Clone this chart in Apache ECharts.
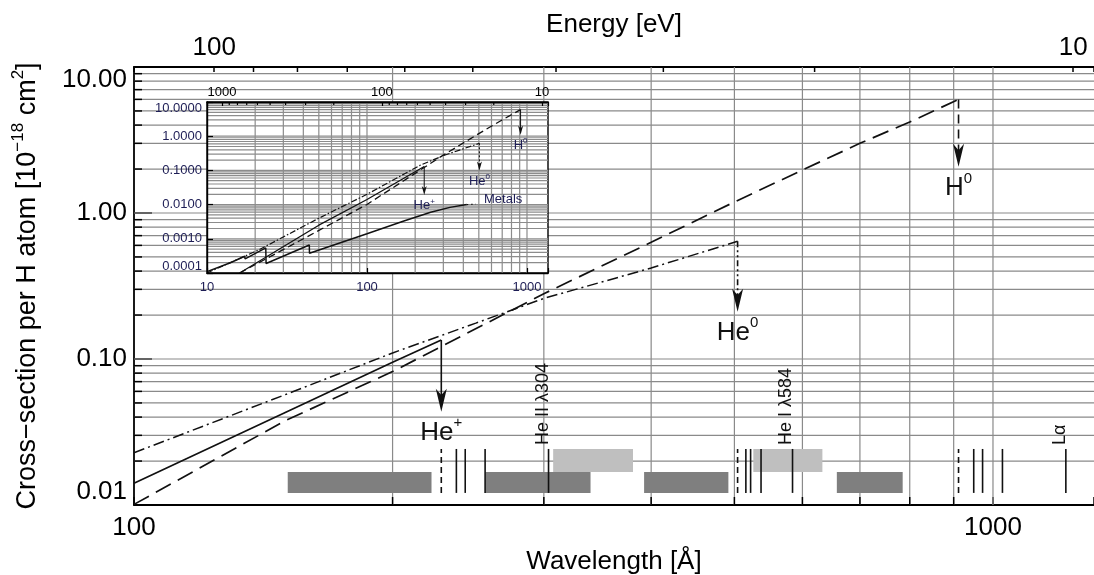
<!DOCTYPE html>
<html><head><meta charset="utf-8">
<script src="https://cdn.jsdelivr.net/npm/echarts@6/dist/echarts.min.js"></script>
<style>html,body{margin:0;padding:0;background:#fff}#c{width:1094px;height:575px}</style>
</head><body><div id="c"></div>
<script>
// ---------------- data (main panel) ----------------
const h0Wave = [100, 150, 200, 300, 400, 500, 600, 700, 800, 911.8];
const h0Sigma = [0.0101, 0.0378, 0.082, 0.28, 0.63, 1.19, 1.97, 3.0, 4.2, 6.0];
const he0Wave = [100, 150, 200, 250, 300, 400, 504.3];
const he0Sigma = [0.0228, 0.057, 0.11, 0.176, 0.26, 0.42, 0.64];
const heiiWave = [100, 150, 200, 227.9];
const heiiSigma = [0.0141, 0.043, 0.095, 0.135];

const arrowWave = [911.8, 504.3, 227.9];
const arrowFrom = [6.0, 0.64, 0.135];
const arrowTo = [2.07, 0.211, 0.0436];
const arrowIon = ['H', 'He', 'He'];
const arrowCharge = ['0', '0', '+'];

const darkBands = [[151, 222], [256.5, 340], [392.5, 492], [658, 785]];
const lightBands = [[307.6, 381], [526, 633]];
const lineWaves = [237.3, 243.0, 256.3, 303.8, 515.6, 522.2, 537.0, 584.3, 949.7, 972.5, 1025.7, 1215.7];
const edgeWaves = [227.9, 504.3, 911.8];
const labelWaves = [303.8, 584.3, 1215.7];
const labelTexts = ['He II λ304', 'He I λ584', 'Lα'];

// ---------------- tick / grid values (main) ----------------
const mainWaveGrid = [200, 300, 400, 500, 600, 700, 800, 900, 1000];
const mainWaveMinorTicks = [200, 300, 400, 500, 600, 700, 800, 900];
const mainSigmaGrid = [0.02, 0.03, 0.04, 0.05, 0.06, 0.07, 0.08, 0.09, 0.1,
  0.2, 0.3, 0.4, 0.5, 0.6, 0.7, 0.8, 0.9, 1, 2, 3, 4, 5, 6, 7, 8, 9];
const mainSigmaMinorTicks = [0.02, 0.03, 0.04, 0.05, 0.06, 0.07, 0.08, 0.09,
  0.2, 0.3, 0.4, 0.5, 0.6, 0.7, 0.8, 0.9, 2, 3, 4, 5, 6, 7, 8, 9];
const mainEnergyMinorTicks = [20, 30, 40, 50, 60, 70, 80, 90];

// ---------------- data (inset) ----------------
const insetH0Wave = [16, 40, 100, 200, 300, 500, 700, 911.8];
const insetH0Sigma = [0.0001, 0.001, 0.0101, 0.082, 0.28, 1.19, 3.0, 6.0];
const insetHe0Wave = [10, 21, 50, 100, 214, 300, 504.3];
const insetHe0Sigma = [0.0001, 0.00047, 0.004, 0.02, 0.14, 0.27, 0.62];
const insetHeIIWave = [16, 50, 100, 227.9];
const insetHeIISigma = [0.0001, 0.0025, 0.0141, 0.13];
const metalsWave = [10, 14, 17.2, 17.3, 23.3, 23.4, 43.6, 43.7, 100, 170, 250, 330, 420];
const metalsSigma = [0.00011, 0.0002, 0.00031, 0.00026, 0.00054, 0.00019, 0.00066, 0.00038, 0.0014, 0.0033, 0.006, 0.0083, 0.0100];
const metalsTailWave = [420, 480];
const metalsTailSigma = [0.0100, 0.0104];
const insetArrowFrom = [6.0, 0.62, 0.13];
const insetArrowTo = [1.1, 0.1, 0.0192];

const insetWaveGrid = [20, 30, 40, 50, 60, 70, 80, 90, 100, 200, 300, 400, 500, 600, 700, 800, 900, 1000];
const insetSigmaGrid = [0.0002, 0.0003, 0.0004, 0.0005, 0.0006, 0.0007, 0.0008, 0.0009, 0.001,
  0.002, 0.003, 0.004, 0.005, 0.006, 0.007, 0.008, 0.009, 0.01,
  0.02, 0.03, 0.04, 0.05, 0.06, 0.07, 0.08, 0.09, 0.1,
  0.2, 0.3, 0.4, 0.5, 0.6, 0.7, 0.8, 0.9, 1, 2, 3, 4, 5, 6, 7, 8, 9];
const insetEnergyMinorTicks = [20, 30, 40, 50, 60, 70, 80, 90, 200, 300, 400, 500, 600, 700, 800, 900];

// ---------------- axis limits ----------------
const HC = 12398.4; // eV * Angstrom
const WAVE_MIN = 100, WAVE_MAX = 1311, SIG_MIN = 0.01, SIG_MAX = 10;
const IN_WAVE_MIN = 10, IN_WAVE_MAX = 1353, IN_SIG_MIN = 0.0001, IN_SIG_MAX = 10;
const BAND_LOW = 0.0121, BAND_MID = 0.01683, BAND_TOP = 0.0242;
const FONT = 'Liberation Sans, Arial, Helvetica, sans-serif';
const NAVY = '#1d1d55';

function isDecade(v) { const l = Math.log10(v); return Math.abs(l - Math.round(l)) < 1e-6; }
function pairs(xs, ys) { return xs.map((x, i) => [x, ys[i]]); }

function gridLineSeries(xi, yi, z, values, vertical, lo, hi, color, width) {
  return {
    type: 'custom', xAxisIndex: xi, yAxisIndex: yi, z: z, silent: true,
    data: values.map(v => vertical ? [v, lo] : [lo, v]),
    renderItem(p, api) {
      let a, b;
      if (vertical) { a = api.coord([api.value(0), lo]); b = api.coord([api.value(0), hi]); }
      else { a = api.coord([lo, api.value(1)]); b = api.coord([hi, api.value(1)]); }
      return { type: 'line', shape: { x1: a[0], y1: a[1], x2: b[0], y2: b[1] }, style: { stroke: color, lineWidth: width } };
    }
  };
}

function tickSeries(xi, yi, z, data, dx, dy, width) {
  return {
    type: 'custom', xAxisIndex: xi, yAxisIndex: yi, z: z, silent: true,
    data: data,
    renderItem(p, api) {
      const a = api.coord([api.value(0), api.value(1)]);
      return { type: 'line', shape: { x1: a[0], y1: a[1], x2: a[0] + dx, y2: a[1] + dy }, style: { stroke: '#000', lineWidth: width } };
    }
  };
}

function arrowSeries(xi, yi, z, froms, tos, cfg) {
  return {
    type: 'custom', xAxisIndex: xi, yAxisIndex: yi, z: z, silent: true,
    data: arrowWave.map((w, i) => [w, froms[i], tos[i], i]),
    renderItem(p, api) {
      const i = api.value(3);
      const a = api.coord([api.value(0), api.value(1)]);
      const b = api.coord([api.value(0), api.value(2)]);
      const x = b[0], hl = cfg.headLen, hw = cfg.headW;
      return { type: 'group', children: [
        { type: 'line', shape: { x1: x, y1: a[1], x2: x, y2: b[1] - hl * 0.6 },
          style: { stroke: cfg.color, lineWidth: cfg.lw, lineDash: cfg.dash[i] } },
        { type: 'polygon', shape: { points: [[x, b[1]], [x - hw / 2, b[1] - hl], [x, b[1] - hl * 0.72], [x + hw / 2, b[1] - hl]] },
          style: { fill: cfg.color } },
        { type: 'text', x: x + cfg.labelDx, y: b[1] + cfg.labelGap,
          style: { text: '{a|' + arrowIon[i] + '}{b|' + arrowCharge[i] + '}', align: 'center', verticalAlign: 'middle',
            rich: { a: { fontSize: cfg.fs, fill: cfg.textColor, fontFamily: FONT, lineHeight: Math.round(cfg.fs * 1.3) },
                    b: { fontSize: cfg.sfs, fill: cfg.textColor, fontFamily: FONT, verticalAlign: 'top' } } } }
      ] };
    }
  };
}

const option = {
  animation: false,
  backgroundColor: '#fff',
  textStyle: { fontFamily: FONT },
  grid: [
    { left: 134, top: 67, right: 0, bottom: 70, containLabel: false, outerBoundsMode: 'none' },
    { left: 207, top: 102, width: 341, height: 171, containLabel: false, outerBoundsMode: 'none',
      show: true, backgroundColor: '#fff', borderColor: '#000', borderWidth: 1.4, z: 5 }
  ],
  xAxis: [
    { gridIndex: 0, type: 'log', min: WAVE_MIN, max: WAVE_MAX, position: 'bottom',
      axisLine: { lineStyle: { color: '#000', width: 1.8 } },
      axisTick: { show: true, inside: true, length: 8, lineStyle: { color: '#000', width: 1.5 } },
      axisLabel: { fontSize: 26, color: '#000', margin: 10, formatter: v => isDecade(v) ? String(Math.round(v)) : '' },
      splitLine: { show: false },
      name: 'Wavelength [Å]', nameLocation: 'middle', nameGap: 44, nameMoveOverlap: false,
      nameTextStyle: { fontSize: 26, color: '#000' } },
    { gridIndex: 0, type: 'log', inverse: true, min: HC / WAVE_MAX, max: HC / WAVE_MIN, position: 'top',
      axisLine: { lineStyle: { color: '#000', width: 1.8 } },
      axisTick: { show: true, inside: true, length: 5, lineStyle: { color: '#000', width: 1.5 } },
      axisLabel: { fontSize: 26, color: '#000', margin: 6, formatter: v => isDecade(v) ? String(Math.round(v)) : '' },
      splitLine: { show: false },
      name: 'Energy [eV]', nameLocation: 'middle', nameGap: 29, nameMoveOverlap: false,
      nameTextStyle: { fontSize: 26, color: '#000' } },
    { gridIndex: 1, type: 'log', min: IN_WAVE_MIN, max: IN_WAVE_MAX, position: 'bottom', z: 8,
      axisLine: { lineStyle: { color: '#000', width: 1.4 } },
      axisTick: { show: true, inside: true, length: 5, lineStyle: { color: '#000', width: 1.2 } },
      axisLabel: { fontSize: 13, color: NAVY, margin: 8, formatter: v => isDecade(v) ? String(Math.round(v)) : '' },
      splitLine: { show: false } },
    { gridIndex: 1, type: 'log', inverse: true, min: HC / IN_WAVE_MAX, max: HC / IN_WAVE_MIN, position: 'top', z: 8,
      axisLine: { lineStyle: { color: '#000', width: 1.4 } },
      axisTick: { show: true, inside: true, length: 4, lineStyle: { color: '#000', width: 1.2 } },
      axisLabel: { fontSize: 13, color: '#000', margin: 3, formatter: v => isDecade(v) ? String(Math.round(v)) : '' },
      splitLine: { show: false } }
  ],
  yAxis: [
    { gridIndex: 0, type: 'log', min: SIG_MIN, max: SIG_MAX,
      axisLine: { show: true, lineStyle: { color: '#000', width: 1.8 } },
      axisTick: { show: true, inside: true, length: 18, lineStyle: { color: '#000', width: 1.5 } },
      axisLabel: { fontSize: 26, color: '#000', margin: 7, formatter: v => isDecade(v) ? v.toFixed(2) : '',
        verticalAlignMinLabel: 'bottom', verticalAlignMaxLabel: 'top' },
      splitLine: { show: false },
      name: 'Cross−section per H atom [10{sup|−18} cm{sup|2}]', nameLocation: 'middle', nameGap: 88, nameMoveOverlap: false,
      nameTextStyle: { fontSize: 27, color: '#000', lineHeight: 36, rich: { sup: { fontSize: 17, color: '#000', verticalAlign: 'top' } } } },
    { gridIndex: 1, type: 'log', min: IN_SIG_MIN, max: IN_SIG_MAX, z: 8,
      axisLine: { show: true, lineStyle: { color: '#000', width: 1.4 } },
      axisTick: { show: true, inside: true, length: 6, lineStyle: { color: '#000', width: 1.2 } },
      axisLabel: { fontSize: 13, color: NAVY, margin: 5, formatter: v => isDecade(v) ? v.toFixed(4) : '',
        verticalAlignMinLabel: 'bottom', verticalAlignMaxLabel: 'top' },
      splitLine: { show: false } }
  ],
  series: [
    // main gridlines
    gridLineSeries(0, 0, 1, mainWaveGrid, true, SIG_MIN, SIG_MAX, '#8a8a8a', 1.2),
    gridLineSeries(0, 0, 1, mainSigmaGrid, false, WAVE_MIN, WAVE_MAX, '#8a8a8a', 1.2),
    // main minor ticks
    tickSeries(0, 0, 3, mainSigmaMinorTicks.map(v => [WAVE_MIN, v]), 8, 0, 1.5),
    tickSeries(0, 0, 3, mainWaveMinorTicks.map(v => [v, SIG_MIN]), 0, -8, 1.5),
    tickSeries(1, 0, 3, mainEnergyMinorTicks.map(v => [v, SIG_MAX]), 0, 5, 1.5),
    // bands
    { type: 'custom', xAxisIndex: 0, yAxisIndex: 0, z: 2, silent: true,
      data: darkBands.map(b => [b[0], b[1]]),
      renderItem(p, api) {
        const a = api.coord([api.value(0), BAND_MID]), c = api.coord([api.value(1), BAND_LOW]);
        return { type: 'rect', shape: { x: a[0], y: a[1], width: c[0] - a[0], height: c[1] - a[1] }, style: { fill: '#7f7f7f' } };
      } },
    { type: 'custom', xAxisIndex: 0, yAxisIndex: 0, z: 2, silent: true,
      data: lightBands.map(b => [b[0], b[1]]),
      renderItem(p, api) {
        const a = api.coord([api.value(0), BAND_TOP]), c = api.coord([api.value(1), BAND_MID]);
        return { type: 'rect', shape: { x: a[0], y: a[1], width: c[0] - a[0], height: c[1] - a[1] }, style: { fill: '#bfbfbf' } };
      } },
    // emission lines and edges
    { type: 'custom', xAxisIndex: 0, yAxisIndex: 0, z: 3, silent: true,
      data: lineWaves.map(w => [w, BAND_LOW]),
      renderItem(p, api) {
        const a = api.coord([api.value(0), BAND_LOW]), b = api.coord([api.value(0), BAND_TOP]);
        return { type: 'line', shape: { x1: a[0], y1: a[1], x2: b[0], y2: b[1] }, style: { stroke: '#111', lineWidth: 1.6 } };
      } },
    { type: 'custom', xAxisIndex: 0, yAxisIndex: 0, z: 3, silent: true,
      data: edgeWaves.map(w => [w, BAND_LOW]),
      renderItem(p, api) {
        const a = api.coord([api.value(0), BAND_LOW]), b = api.coord([api.value(0), BAND_TOP]);
        return { type: 'line', shape: { x1: a[0], y1: a[1], x2: b[0], y2: b[1] }, style: { stroke: '#111', lineWidth: 1.6, lineDash: [6, 4] } };
      } },
    { type: 'custom', xAxisIndex: 0, yAxisIndex: 0, z: 3, silent: true,
      data: labelWaves.map((w, i) => [w, BAND_TOP, i]),
      renderItem(p, api) {
        const b = api.coord([api.value(0), BAND_TOP]);
        return { type: 'text', x: b[0] - 6, y: b[1] - 4, rotation: Math.PI / 2,
          style: { text: labelTexts[api.value(2)], fontSize: 18, fontFamily: FONT, fill: '#111', align: 'left', verticalAlign: 'middle' } };
      } },
    // main curves
    { type: 'line', xAxisIndex: 0, yAxisIndex: 0, z: 4, symbol: 'none', silent: true,
      data: pairs(h0Wave, h0Sigma), lineStyle: { color: '#111', width: 1.7, type: [17, 8] } },
    { type: 'line', xAxisIndex: 0, yAxisIndex: 0, z: 4, symbol: 'none', silent: true,
      data: pairs(he0Wave, he0Sigma), lineStyle: { color: '#111', width: 1.5, type: [11, 4, 2, 4] } },
    { type: 'line', xAxisIndex: 0, yAxisIndex: 0, z: 4, symbol: 'none', silent: true,
      data: pairs(heiiWave, heiiSigma), lineStyle: { color: '#111', width: 1.7, type: 'solid' } },
    arrowSeries(0, 0, 4, arrowFrom, arrowTo,
      { headLen: 23, headW: 11, lw: 1.6, color: '#111', dash: [[9, 6], [6, 3, 2, 3, 2, 3], null],
        labelDx: 0, labelGap: 21, fs: 26, sfs: 15, textColor: '#111' }),

    // ---------- inset ----------
    gridLineSeries(2, 1, 6, insetWaveGrid, true, IN_SIG_MIN, IN_SIG_MAX, '#8c8c8c', 1.2),
    gridLineSeries(2, 1, 6, insetSigmaGrid, false, IN_WAVE_MIN, IN_WAVE_MAX, '#8c8c8c', 1.2),
    tickSeries(3, 1, 7, insetEnergyMinorTicks.map(v => [v, IN_SIG_MAX]), 0, 3, 1.2),
    { type: 'line', xAxisIndex: 2, yAxisIndex: 1, z: 7, symbol: 'none', silent: true,
      data: pairs(insetH0Wave, insetH0Sigma), lineStyle: { color: '#111', width: 1.3, type: [7, 4] } },
    { type: 'line', xAxisIndex: 2, yAxisIndex: 1, z: 7, symbol: 'none', silent: true,
      data: pairs(insetHe0Wave, insetHe0Sigma), lineStyle: { color: '#111', width: 1.2, type: [6, 2, 1.5, 2] } },
    { type: 'line', xAxisIndex: 2, yAxisIndex: 1, z: 7, symbol: 'none', silent: true,
      data: pairs(insetHeIIWave, insetHeIISigma), lineStyle: { color: '#111', width: 1.3, type: 'solid' } },
    { type: 'line', xAxisIndex: 2, yAxisIndex: 1, z: 7, symbol: 'none', silent: true,
      data: pairs(metalsWave, metalsSigma), lineStyle: { color: '#111', width: 1.5, type: 'solid' } },
    { type: 'line', xAxisIndex: 2, yAxisIndex: 1, z: 7, symbol: 'none', silent: true,
      data: pairs(metalsTailWave, metalsTailSigma), lineStyle: { color: '#111', width: 1.2, type: [1.5, 3] } },
    { type: 'custom', xAxisIndex: 2, yAxisIndex: 1, z: 7, silent: true,
      data: [[metalsTailWave[1], metalsTailSigma[1]]],
      renderItem(p, api) {
        const a = api.coord([api.value(0), api.value(1)]);
        return { type: 'text', x: a[0] + 8, y: a[1] - 5,
          style: { text: 'Metals', fontSize: 13, fontFamily: FONT, fill: NAVY, align: 'left', verticalAlign: 'middle' } };
      } },
    arrowSeries(2, 1, 7, insetArrowFrom, insetArrowTo,
      { headLen: 9, headW: 5, lw: 1, color: '#111', dash: [null, [2, 2], null],
        labelDx: 0, labelGap: 11, fs: 13, sfs: 8, textColor: NAVY })
  ]
};

const chart = echarts.init(document.getElementById('c'), null, { renderer: 'canvas' });
chart.setOption(option);
</script>
</body></html>
